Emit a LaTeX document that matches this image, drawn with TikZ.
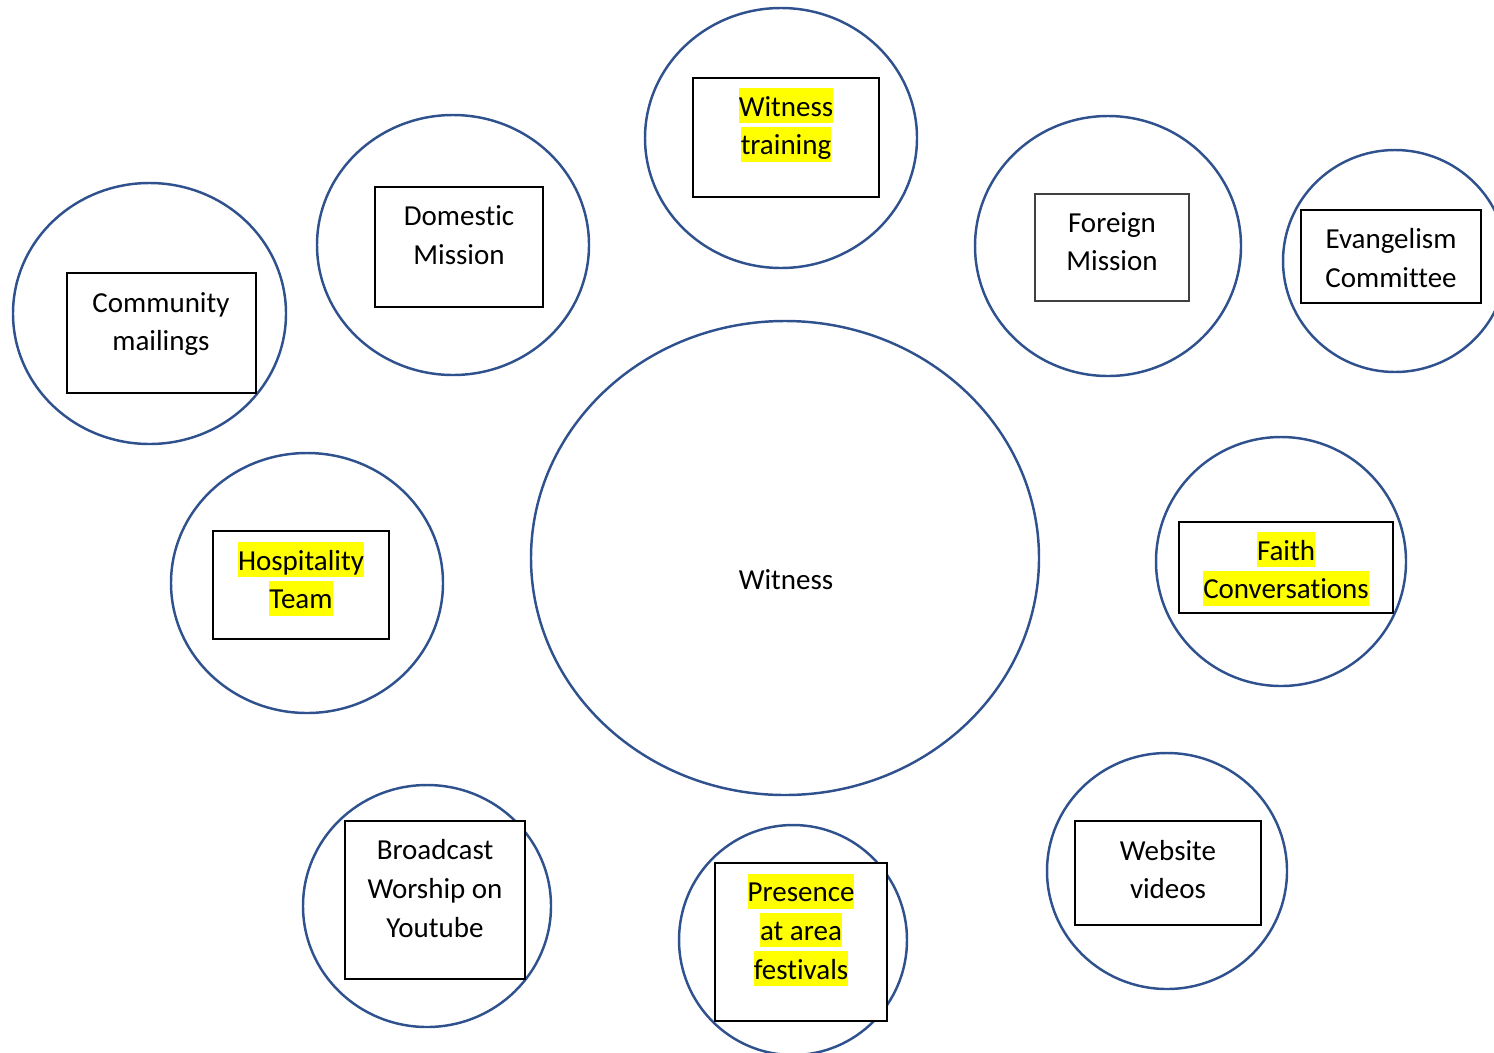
\documentclass[tikz,border=0pt]{standalone}
\usepackage{fontspec}
\setmainfont{Carlito}[Ligatures={NoCommon}]
\usepackage{xcolor}
\usepackage{tikz}
\definecolor{ringblue}{RGB}{47,82,143}
\definecolor{hlyellow}{RGB}{255,255,0}
\newcommand{\hl}[1]{{\setlength{\fboxsep}{0pt}\colorbox{hlyellow}{\rule[-0.24em]{0pt}{1.2em}#1}}}
\newcommand{\pl}[1]{\rule[-0.24em]{0pt}{1.2em}#1}
\tikzset{
  ring/.style={draw=ringblue, line width=1.4pt},
  box/.style={draw=black, fill=white, line width=1.1pt},
  txt/.style={align=center, inner sep=0pt, font=\fontsize{16.5}{22.1}\selectfont}
}

\begin{document}
\begin{tikzpicture}[x=0.02cm, y=-0.02cm]

\useasboundingbox (0,0) rectangle (1494,1052);
\clip (0,0) rectangle (1494,1052);

% centre
\draw[ring] (785,558) ellipse (254 and 237);
\node[txt] (witness) at (786,579) {\pl{Witness}};

% top row
\draw[ring] (149.5,313.5) ellipse (136.5 and 130.5);
\filldraw[box] (67,273) rectangle (256,393);
\node[txt] (community) at (161,321) {\pl{Community}\\\pl{mailings}};

\draw[ring] (453,245) ellipse (136 and 130);
\filldraw[box] (375,187) rectangle (543,307);
\node[txt] (domestic) at (459,234.5) {\pl{Domestic}\\\pl{Mission}};

\draw[ring] (781,138) ellipse (136 and 130);
\filldraw[box] (693,78) rectangle (879,197);
\node[txt] (training) at (786,125) {\hl{Witness}\\\hl{training}};

\draw[ring] (1108,246) ellipse (133 and 130);
\filldraw[box, draw=black!75, line width=0.8pt] (1035,194) rectangle (1189,301);
\node[txt] (foreign) at (1112,241) {\pl{Foreign}\\\pl{Mission}};

\draw[ring] (1395,261) ellipse (112 and 111);
\filldraw[box] (1301,210) rectangle (1481,303);
\node[txt] (evangelism) at (1391,257.5) {\pl{Evangelism}\\\pl{Committee}};

% middle row
\draw[ring] (307,583) ellipse (136 and 130);
\filldraw[box] (213,531) rectangle (389,639);
\node[txt] (hospitality) at (301,579) {\hl{Hospitality}\\\hl{Team}};

\draw[ring] (1281,561.5) ellipse (125 and 124.5);
\filldraw[box] (1179,522) rectangle (1393,613);
\node[txt] (faith) at (1286,569) {\hl{Faith}\\\hl{Conversations}};

% bottom row
\draw[ring] (427,906) ellipse (124 and 121);
\filldraw[box] (345,821) rectangle (525,979);
\node[txt] (broadcast) at (435,888) {\pl{Broadcast}\\\pl{Worship on}\\\pl{Youtube}};

\draw[ring] (793,940) ellipse (114 and 115);
\filldraw[box] (715,863) rectangle (887,1021);
\node[txt] (presence) at (801,930) {\hl{Presence}\\\hl{at area}\\\hl{festivals}};

\draw[ring] (1167,871) ellipse (120 and 118);
\filldraw[box] (1075,821) rectangle (1261,925);
\node[txt] (website) at (1168,869) {\pl{Website}\\\pl{videos}};

\end{tikzpicture}
\end{document}
